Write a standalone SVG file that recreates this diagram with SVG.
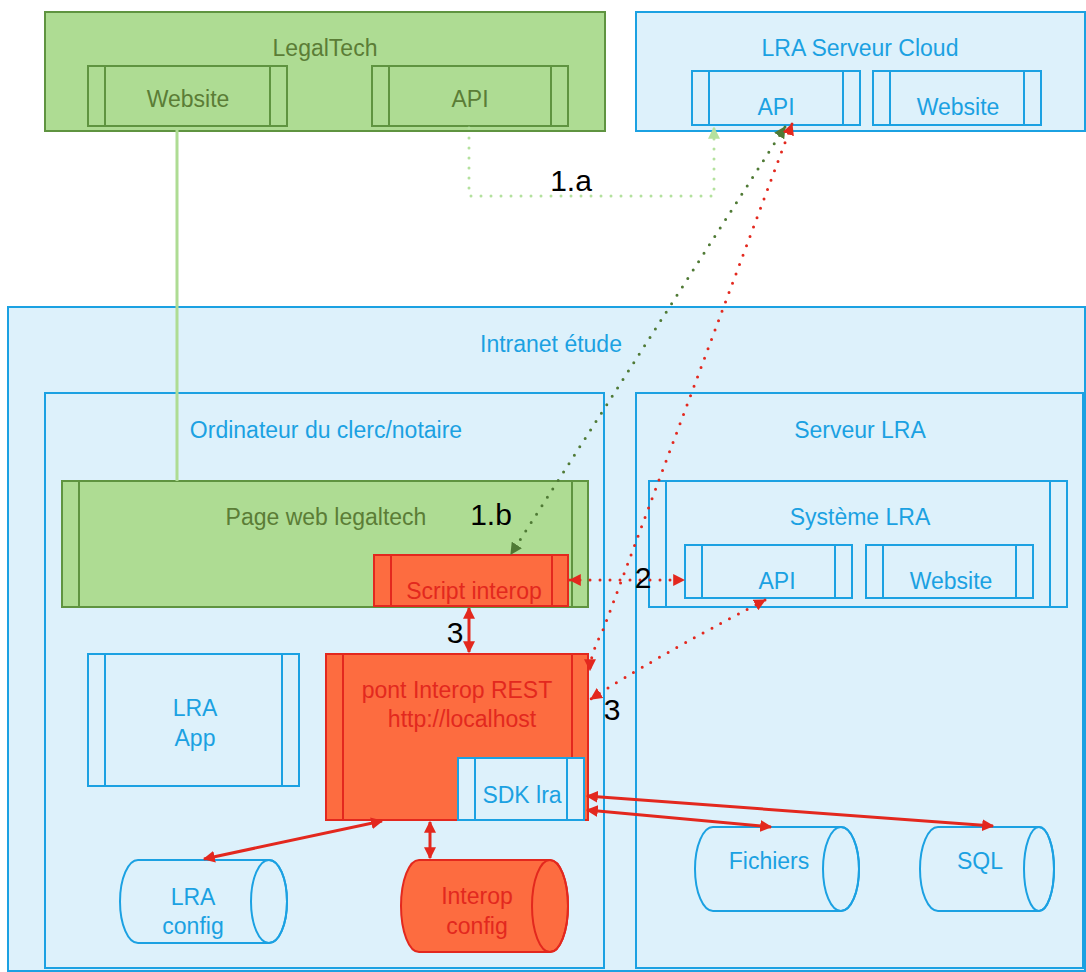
<svg xmlns="http://www.w3.org/2000/svg" width="1086" height="972" viewBox="0 0 1086 972">
  <style>
    text { font-family: "Liberation Sans", Arial, sans-serif; font-size: 23px; text-anchor: middle; }
    .blue { fill: #ddf1fb; stroke: #1ba1e2; stroke-width: 2; }
    .blueline { fill: none; stroke: #1ba1e2; stroke-width: 2; }
    .green { fill: #aedc93; stroke: #5f9440; stroke-width: 2; }
    .greenline { fill: none; stroke: #5f9440; stroke-width: 2; }
    .red { fill: #fd6c40; stroke: #e3281e; stroke-width: 2; }
    .redline { fill: none; stroke: #e3281e; stroke-width: 2; }
    .tb { fill: #1ba1e2; }
    .tg { fill: #5b7d36; }
    .tr { fill: #e3281e; }
    .tk { fill: #000; font-size: 30px; }
    .dot { fill: none; stroke-width: 3; stroke-linecap: round; stroke-dasharray: 0 10; }
    .solid { fill: none; stroke-width: 3; }
  </style>
  <defs>
    <marker id="ah-red" viewBox="0 0 10 10" refX="9" refY="5" markerWidth="12" markerHeight="12" markerUnits="userSpaceOnUse" orient="auto-start-reverse">
      <path d="M0,0 L10,5 L0,10 z" fill="#e3281e"/>
    </marker>
    <marker id="ah-dgreen" viewBox="0 0 10 10" refX="9" refY="5" markerWidth="12" markerHeight="12" markerUnits="userSpaceOnUse" orient="auto-start-reverse">
      <path d="M0,0 L10,5 L0,10 z" fill="#4f7a35"/>
    </marker>
    <marker id="ah-lgreen" viewBox="0 0 10 10" refX="9" refY="5" markerWidth="12" markerHeight="12" markerUnits="userSpaceOnUse" orient="auto-start-reverse">
      <path d="M0,0 L10,5 L0,10 z" fill="#b4e19e"/>
    </marker>
  </defs>

  <rect width="1086" height="972" fill="#ffffff"/>

  <!-- LegalTech -->
  <g id="legaltech">
    <rect class="green" x="45" y="12" width="560" height="119"/>
    <text class="tg" x="325" y="56">LegalTech</text>
  </g>
  <g id="legaltech-website">
    <rect class="green" x="88" y="66" width="199" height="60"/>
    <path class="greenline" d="M105,66 V126 M270,66 V126"/>
    <text class="tg" x="188" y="107">Website</text>
  </g>
  <g id="legaltech-api">
    <rect class="green" x="372" y="66" width="196" height="60"/>
    <path class="greenline" d="M389,66 V126 M551,66 V126"/>
    <text class="tg" x="470" y="107">API</text>
  </g>

  <!-- LRA Serveur Cloud -->
  <g id="cloud">
    <rect class="blue" x="636" y="12" width="449" height="119"/>
    <text class="tb" x="860" y="56">LRA Serveur Cloud</text>
  </g>
  <g id="cloud-api">
    <rect class="blue" x="692" y="71" width="168" height="54"/>
    <path class="blueline" d="M709,71 V125 M843,71 V125"/>
    <text class="tb" x="776" y="115">API</text>
  </g>
  <g id="cloud-website">
    <rect class="blue" x="873" y="71" width="168" height="54"/>
    <path class="blueline" d="M890,71 V125 M1024,71 V125"/>
    <text class="tb" x="958" y="115">Website</text>
  </g>

  <!-- Intranet -->
  <g id="intranet">
    <rect class="blue" x="8" y="307" width="1077" height="664"/>
    <text class="tb" x="551" y="352">Intranet étude</text>
  </g>
  <g id="ordinateur">
    <rect class="blue" x="45" y="393" width="559" height="575"/>
    <text class="tb" x="326" y="438">Ordinateur du clerc/notaire</text>
  </g>
  <g id="serveur-lra">
    <rect class="blue" x="636" y="393" width="447" height="575"/>
    <text class="tb" x="860" y="438">Serveur LRA</text>
  </g>

  <g id="page-web">
    <rect class="green" x="62" y="481" width="526" height="126"/>
    <path class="greenline" d="M79,481 V607 M572,481 V607"/>
    <text class="tg" x="326" y="525">Page web legaltech</text>
  </g>
  <g id="script-interop">
    <rect class="red" x="374" y="555" width="194" height="51"/>
    <path class="redline" d="M391,555 V606 M552,555 V606"/>
    <text class="tr" x="474" y="599">Script interop</text>
  </g>

  <g id="systeme-lra">
    <rect class="blue" x="649" y="481" width="418" height="126"/>
    <path class="blueline" d="M666,481 V607 M1050,481 V607"/>
    <text class="tb" x="860" y="525">Système LRA</text>
  </g>
  <g id="systeme-api">
    <rect class="blue" x="685" y="545" width="167" height="53"/>
    <path class="blueline" d="M702,545 V598 M835,545 V598"/>
    <text class="tb" x="777" y="589">API</text>
  </g>
  <g id="systeme-website">
    <rect class="blue" x="866" y="545" width="167" height="53"/>
    <path class="blueline" d="M883,545 V598 M1016,545 V598"/>
    <text class="tb" x="951" y="589">Website</text>
  </g>

  <g id="lra-app">
    <rect class="blue" x="88" y="654" width="211" height="132"/>
    <path class="blueline" d="M105,654 V786 M282,654 V786"/>
    <text class="tb" x="195" y="716">LRA</text>
    <text class="tb" x="195" y="746">App</text>
  </g>

  <g id="pont-interop">
    <rect class="red" x="326" y="654" width="262" height="166"/>
    <path class="redline" d="M343,654 V820 M572,654 V820"/>
    <text class="tr" x="457" y="698">pont Interop REST</text>
    <text class="tr" x="462" y="727">http://localhost</text>
  </g>
  <g id="sdk-lra">
    <rect class="blue" x="458" y="758" width="126" height="62"/>
    <path class="blueline" d="M475,758 V820 M567,758 V820"/>
    <text class="tb" x="522" y="803">SDK lra</text>
  </g>

  <!-- horizontal cylinders: flat top/bottom, elliptical ends -->
  <g id="lra-config">
    <path class="blue" d="M138,860 H269 A18,41.5 0 0 1 269,943 H138 A18,41.5 0 0 1 138,860 Z"/>
    <ellipse class="blueline" cx="269" cy="901.5" rx="18" ry="41.5"/>
    <text class="tb" x="193" y="905">LRA</text>
    <text class="tb" x="193" y="934">config</text>
  </g>
  <g id="interop-config">
    <path class="red" d="M419,860 H550 A18,46 0 0 1 550,952 H419 A18,46 0 0 1 419,860 Z"/>
    <ellipse class="redline" cx="550" cy="906" rx="18" ry="46"/>
    <text class="tr" x="477" y="904">Interop</text>
    <text class="tr" x="477" y="934">config</text>
  </g>
  <g id="fichiers">
    <path class="blue" d="M713,827 H841 A18,42 0 0 1 841,911 H713 A18,42 0 0 1 713,827 Z"/>
    <ellipse class="blueline" cx="841" cy="869" rx="18" ry="42"/>
    <text class="tb" x="769" y="869">Fichiers</text>
  </g>
  <g id="sql">
    <path class="blue" d="M938,827 H1039 A15,42 0 0 1 1039,911 H938 A18,42 0 0 1 938,827 Z"/>
    <ellipse class="blueline" cx="1039" cy="869" rx="15" ry="42"/>
    <text class="tb" x="980" y="869">SQL</text>
  </g>

  <!-- connectors -->
  <g id="connectors">
    <path d="M177,127 V481" stroke="#aedc93" stroke-width="3" fill="none"/>
    <path class="dot" stroke="#b4e19e" d="M469,128 V196 H714 V128" marker-end="url(#ah-lgreen)"/>
    <path class="dot" stroke="#4f7a35" d="M785,127 L511,554" marker-start="url(#ah-dgreen)" marker-end="url(#ah-dgreen)"/>
    <path class="dot" stroke="#e3281e" d="M792,124 L603,630 Q590,655 590,670" marker-start="url(#ah-red)" marker-end="url(#ah-red)"/>
    <path class="dot" stroke="#e3281e" d="M570,580 H684" marker-start="url(#ah-red)" marker-end="url(#ah-red)"/>
    <path class="dot" stroke="#e3281e" d="M765,600 Q650,660 591,699" marker-start="url(#ah-red)" marker-end="url(#ah-red)"/>
    <path class="solid" stroke="#e3281e" d="M469,608 V652" marker-start="url(#ah-red)" marker-end="url(#ah-red)"/>
    <path class="solid" stroke="#e3281e" d="M382,821 L204,859" marker-start="url(#ah-red)" marker-end="url(#ah-red)"/>
    <path class="solid" stroke="#e3281e" d="M430,822 V858" marker-start="url(#ah-red)" marker-end="url(#ah-red)"/>
    <path class="solid" stroke="#e3281e" d="M587,796 L993,826" marker-start="url(#ah-red)" marker-end="url(#ah-red)"/>
    <path class="solid" stroke="#e3281e" d="M587,810 L771,827" marker-start="url(#ah-red)" marker-end="url(#ah-red)"/>
    <text class="tk" x="571" y="191">1.a</text>
    <text class="tk" x="491" y="525">1.b</text>
    <text class="tk" x="643" y="588">2</text>
    <text class="tk" x="455" y="643">3</text>
    <text class="tk" x="612" y="720">3</text>
  </g>
</svg>
